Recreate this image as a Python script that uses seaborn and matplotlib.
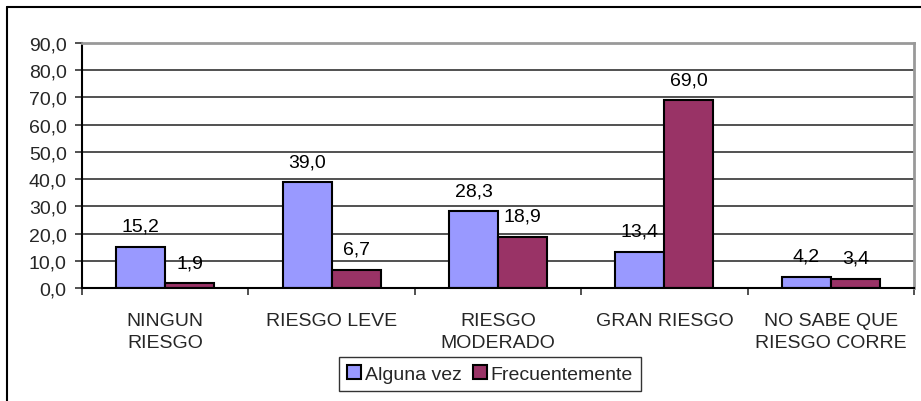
import pandas as pd
import matplotlib
matplotlib.use("Agg")
import matplotlib.pyplot as plt
import seaborn as sns
from matplotlib.lines import Line2D

# Datos
categorias = ["NINGUN\nRIESGO", "RIESGO LEVE", "RIESGO\nMODERADO", "GRAN RIESGO", "NO SABE QUE\nRIESGO CORRE"]
series = ["Alguna vez", "Frecuentemente"]
alguna_vez = [15.2, 39.0, 28.3, 13.4, 4.2]
frecuentemente = [1.9, 6.7, 18.9, 69.0, 3.4]
y_ticks = [0, 10, 20, 30, 40, 50, 60, 70, 80, 90]
colores = ["#9999FF", "#993366"]

df = pd.DataFrame({
    "categoria": categorias * 2,
    "serie": [series[0]] * len(categorias) + [series[1]] * len(categorias),
    "valor": alguna_vez + frecuentemente,
})

sns.set_theme(style="white")
plt.rcParams['font.family'] = ['Liberation Sans', 'DejaVu Sans']
plt.rcParams['font.size'] = 14

fig = plt.figure(figsize=(9.21, 4.02), dpi=100)
ax = fig.add_axes([82 / 921, 1 - 289 / 402, (914 - 82) / 921, (289 - 44) / 402])

sns.barplot(data=df, x="categoria", y="valor", hue="serie", order=categorias,
            hue_order=series, palette=colores, saturation=1, width=0.59, gap=0,
            edgecolor="black", linewidth=1.5, ax=ax, legend=True)

# Etiquetas de valores
for cont in ax.containers:
    ax.bar_label(cont, labels=[f"{v:.1f}".replace(".", ",") for v in cont.datavalues],
                 padding=8.5, fontsize=14, color="black")

ax.set_ylim(0, 90)
ax.set_xlim(-0.5, len(categorias) - 0.5)
ax.set_yticks(y_ticks)
ax.set_yticklabels([f"{v:.1f}".replace(".", ",") for v in y_ticks], fontsize=14)
ax.yaxis.grid(True, color="#333333", linewidth=1.2)
ax.set_axisbelow(True)
ax.set_xlabel("")
ax.set_ylabel("")

# Ticks de categoria en los limites
ax.set_xticks(range(len(categorias)))
ax.set_xticklabels(categorias, fontsize=14, linespacing=1.4, va="top")
ax.set_xticks([i - 0.5 for i in range(len(categorias) + 1)], minor=True)
ax.tick_params(axis="x", which="major", length=0, pad=17)
ax.tick_params(axis="x", which="minor", length=5, width=1.2, color="#333333", bottom=True)
ax.tick_params(axis="y", length=5, width=1.2, color="#333333", left=True, pad=6)

for side in ["top", "right"]:
    ax.spines[side].set_color("#999999")
    ax.spines[side].set_linewidth(2)
for side in ["left", "bottom"]:
    ax.spines[side].set_color("black")
    ax.spines[side].set_linewidth(1.5)

# Leyenda
leg = ax.legend(loc="center", bbox_to_anchor=(490 / 921, 1 - 375 / 402),
                bbox_transform=fig.transFigure, ncol=2, frameon=True, fancybox=False,
                fontsize=14, handlelength=0.7, handleheight=0.7, handletextpad=0.2,
                columnspacing=0.6, borderpad=0.4, borderaxespad=0)
leg.get_frame().set_edgecolor("black")
leg.get_frame().set_linewidth(1.0)
for h in leg.legend_handles:
    h.set_edgecolor("black")
    h.set_linewidth(1.5)

# Marco exterior
fig.add_artist(Line2D([7 / 921, 7 / 921], [0, 1 - 8 / 402], transform=fig.transFigure, color="black", linewidth=1.5))
fig.add_artist(Line2D([7 / 921, 1], [1 - 8 / 402, 1 - 8 / 402], transform=fig.transFigure, color="black", linewidth=1.5))

fig.savefig("out.png", dpi=100)
